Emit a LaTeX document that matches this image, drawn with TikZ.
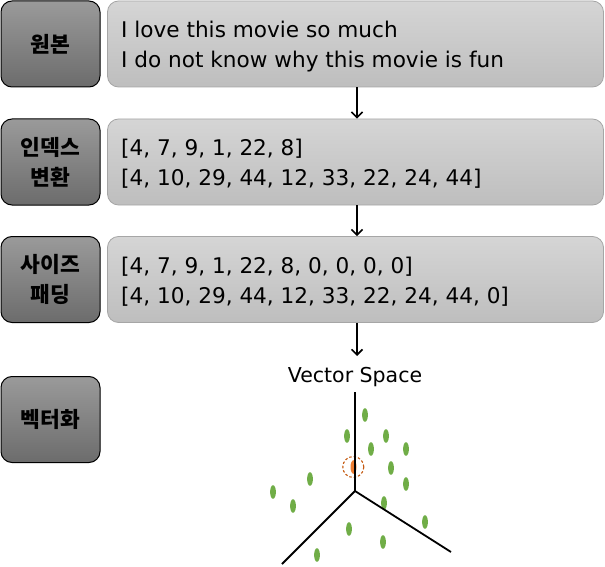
\documentclass[tikz,border=0pt]{standalone}
\usepackage{fontspec}
\setmainfont{Noto Sans CJK KR}
\newfontfamily\latinfont{DejaVu Sans}
\usetikzlibrary{arrows.meta}
\definecolor{lboxtop}{HTML}{9A9A9A}
\definecolor{lboxbot}{HTML}{6C6C6C}
\definecolor{rboxtop}{HTML}{D5D5D5}
\definecolor{rboxbot}{HTML}{BEBEBE}
\definecolor{rboxline}{HTML}{A6A6A6}
\definecolor{dotgreen}{HTML}{70AD47}
\definecolor{dotorange}{HTML}{ED7D31}
\definecolor{circbrown}{HTML}{C55A11}
\tikzset{
  x=1pt, y=-1pt,
  lbox/.style={draw=black, line width=1pt, rounded corners=11pt, top color=lboxtop, bottom color=lboxbot,
    minimum width=99pt, minimum height=86pt, inner sep=0pt, align=center,
    font=\fontsize{21.5}{30}\selectfont\bfseries},
  rbox/.style={draw=rboxline, line width=0.8pt, rounded corners=11pt, top color=rboxtop, bottom color=rboxbot,
    minimum width=496pt, minimum height=86pt, inner sep=0pt},
  rtext/.style={anchor=west, align=left, inner sep=0pt, font=\latinfont\fontsize{21.6}{29.5}\selectfont},
  arr/.style={line width=1.6pt, -{Straight Barb[length=5.5pt,width=11pt,line width=1.6pt]}},
  axis/.style={line width=1.8pt, black},
  gdot/.style={fill=dotgreen},
}
\begin{document}
\begin{tikzpicture}
\useasboundingbox (0,0) rectangle (605,567);
% left labels
\node[lbox] (l1) at (50.5,44) {원본};
\node[lbox] (l2) at (50.5,162) {인덱스\\변환};
\node[lbox] (l3) at (50.5,279.5) {사이즈\\패딩};
\node[lbox] (l4) at (50.5,419.5) {벡터화};
% right boxes
\node[rbox] (r1) at (355.5,44) {};
\node[rbox] (r2) at (355.5,162) {};
\node[rbox] (r3) at (355.5,279.5) {};
\node[rtext] (t1) at (121,46.5) {I love this movie so much\\I do not know why this movie is fun};
\node[rtext] (t2) at (121,163.5) {{[}4, 7, 9, 1, 22, 8{]}\\{[}4, 10, 29, 44, 12, 33, 22, 24, 44{]}};
\node[rtext] (t3) at (121,281.5) {{[}4, 7, 9, 1, 22, 8, 0, 0, 0, 0{]}\\{[}4, 10, 29, 44, 12, 33, 22, 24, 44, 0{]}};
\node[inner sep=0pt, font=\latinfont\fontsize{20.5}{24}\selectfont] (vs) at (355,377) {Vector Space};
% arrows
\coordinate (ax) at (357,0);
\draw[arr] (r1.south -| ax) -- (r2.north -| ax);
\draw[arr] (r2.south -| ax) -- (r3.north -| ax);
\draw[arr] (r3.south -| ax) -- (ax |- 0,356);
% dots
\foreach \p in {(365,415),(347,436),(386,436),(371,449),(406,449),(391,468),(406,484),(310,479),(273,492),(293,506),(384,503),(425,522),(349,529),(383,542),(317,555)}
  \fill[gdot] \p ellipse [x radius=2.9, y radius=6.8];
\fill[dotorange] (353.5,467) ellipse [x radius=3, y radius=6.8];
\draw[circbrown, dashed, line width=1.1pt, dash pattern=on 2.5pt off 2pt] (353.3,467) circle [radius=10.5];
% axes
\coordinate (o) at (355,491);
\coordinate (az) at (355,392);
\coordinate (axl) at (282,564);
\coordinate (axr) at (451,552);
\draw[axis] (az) -- (o);
\draw[axis] (axl) -- (o) -- (axr);
\end{tikzpicture}
\end{document}
